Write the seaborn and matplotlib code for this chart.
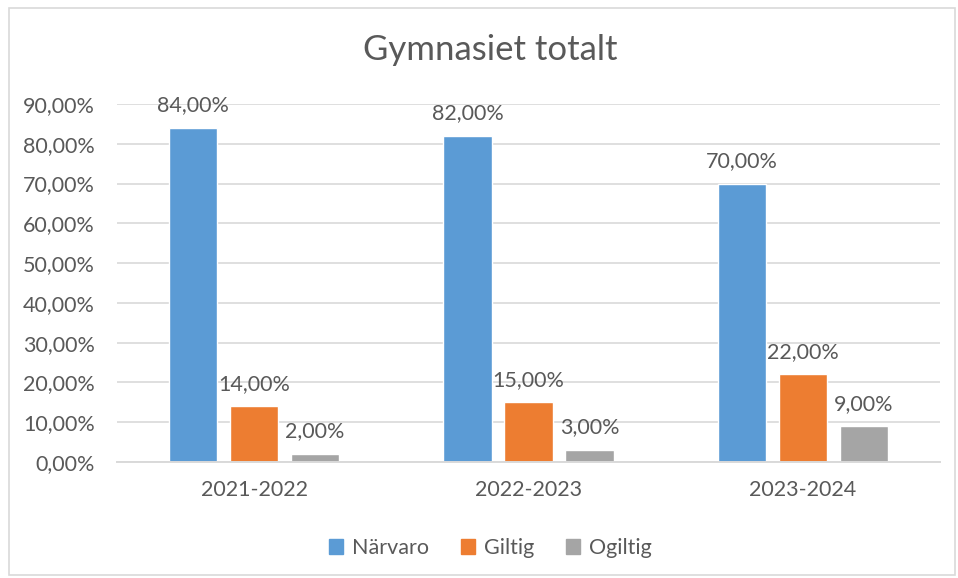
import pandas as pd
import matplotlib.pyplot as plt
import seaborn as sns
from matplotlib.patches import Rectangle

# --- Data ---
years = ['2021-2022', '2022-2023', '2023-2024']
series = ['Närvaro', 'Giltig', 'Ogiltig']
narvaro = [84, 82, 70]
giltig = [14, 15, 22]
ogiltig = [2, 3, 9]
colors = ['#5B9BD5', '#ED7D31', '#A5A5A5']

df = pd.DataFrame({
    'year': years * 3,
    'series': [s for s in series for _ in years],
    'value': narvaro + giltig + ogiltig,
})

sns.set_theme(style='white')
plt.rcParams['font.family'] = ['Lato', 'DejaVu Sans']
text_color = '#595959'
fs = 15.5

fig = plt.figure(figsize=(9.58, 5.78), dpi=100)
ax = fig.add_axes([0.1221, 0.2007, 0.859, 0.6194])

sns.barplot(data=df, x='year', y='value', hue='series', hue_order=series,
            palette=colors, width=0.667, gap=0.21, saturation=1,
            ax=ax, legend=False, errorbar=None)

# data labels
for cont in ax.containers:
    ax.bar_label(cont, labels=[f'{v:.2f}%'.replace('.', ',') for v in cont.datavalues],
                 padding=9, fontsize=fs, color=text_color)

ax.set_xlim(-0.5, 2.5)
ax.set_ylim(0, 90)
ax.set_yticks(range(0, 91, 10))
ax.set_yticklabels([f'{t},00%' for t in range(0, 91, 10)])
ax.yaxis.grid(True, color='#D9D9D9', linewidth=1.2)
ax.set_axisbelow(True)
for s in ['top', 'right', 'left']:
    ax.spines[s].set_visible(False)
ax.spines['bottom'].set_color('#D9D9D9')
ax.spines['bottom'].set_linewidth(1.4)
ax.tick_params(axis='both', length=0, labelsize=fs, colors=text_color)
ax.tick_params(axis='y', pad=16)
ax.tick_params(axis='x', pad=13)
ax.set_xlabel('')
ax.set_ylabel('')

fig.text(0.512, 0.913, 'Gymnasiet totalt', ha='center', va='center',
         fontsize=25, color=text_color)

# legend
handles = [Rectangle((0, 0), 1, 1, color=c) for c in colors]
fig.legend(handles, series, loc='center', bbox_to_anchor=(0.512, 0.052), ncol=3,
           frameon=False, fontsize=fs, labelcolor=text_color, handlelength=0.65,
           handleheight=0.65, handletextpad=0.4, columnspacing=1.5)

# chart border
fig.patches.append(Rectangle((0.009, 0.005), 0.988, 0.982, transform=fig.transFigure,
                             fill=False, edgecolor='#D9D9D9', linewidth=1.2))

fig.savefig('out.png', dpi=100)
